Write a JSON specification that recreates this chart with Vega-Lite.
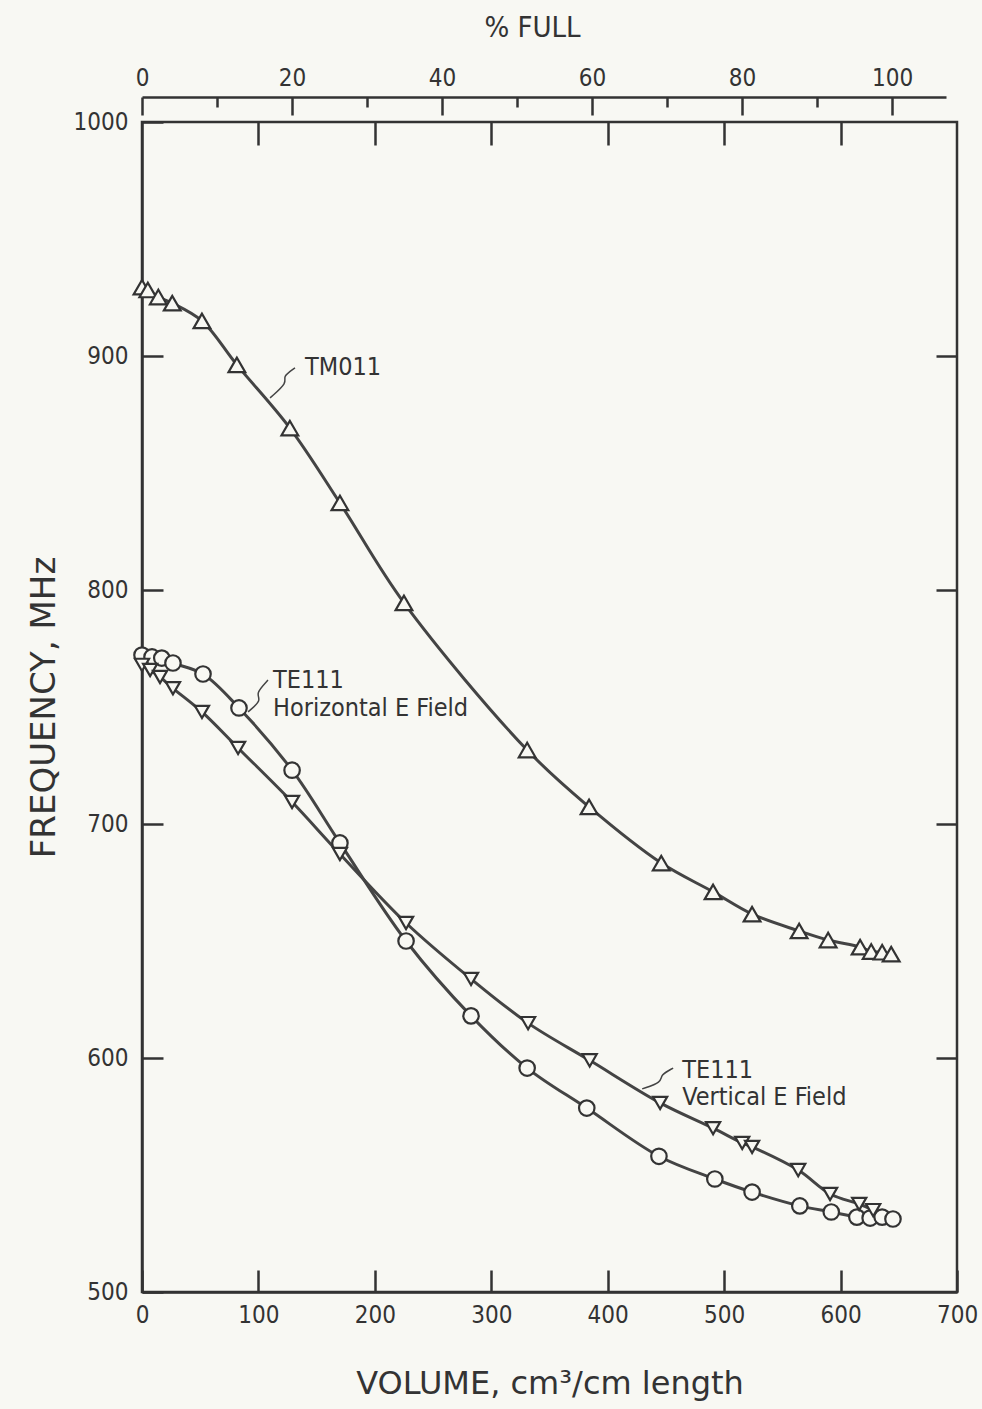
{
  "$schema": "https://vega.github.io/schema/vega-lite/v6.json",
  "width": 815,
  "height": 1170,
  "autosize": "none",
  "padding": {"left": 142, "top": 122, "right": 25, "bottom": 117},
  "background": "#f8f8f3",
  "config": {
    "view": {"stroke": "#333333", "strokeWidth": 2.5},
    "font": "DejaVu Sans Condensed",
    "axis": {
      "labelFont": "DejaVu Sans Condensed",
      "labelFontSize": 24,
      "labelColor": "#333333",
      "tickColor": "#333333",
      "tickWidth": 2.5,
      "domainColor": "#333333",
      "domainWidth": 2.5,
      "grid": false,
      "titleFont": "DejaVu Sans",
      "titleFontSize": 32,
      "titleFontWeight": "normal",
      "titleColor": "#333333"
    }
  },
  "datasets": {
    "curves": [
      {"series": "TM011", "vol": 0, "freq": 929.4},
      {"series": "TM011", "vol": 5, "freq": 928.2},
      {"series": "TM011", "vol": 14, "freq": 925.2},
      {"series": "TM011", "vol": 26, "freq": 922.6},
      {"series": "TM011", "vol": 51.5, "freq": 915.0},
      {"series": "TM011", "vol": 81.5, "freq": 896.2},
      {"series": "TM011", "vol": 127, "freq": 869.2},
      {"series": "TM011", "vol": 170, "freq": 837.2},
      {"series": "TM011", "vol": 225, "freq": 794.5},
      {"series": "TM011", "vol": 330.8, "freq": 731.6},
      {"series": "TM011", "vol": 384, "freq": 707.3},
      {"series": "TM011", "vol": 446, "freq": 683.3},
      {"series": "TM011", "vol": 490.5, "freq": 671.0},
      {"series": "TM011", "vol": 524, "freq": 661.5},
      {"series": "TM011", "vol": 564.4, "freq": 654.3},
      {"series": "TM011", "vol": 589.3, "freq": 650.4},
      {"series": "TM011", "vol": 616.8, "freq": 647.4},
      {"series": "TM011", "vol": 626.3, "freq": 645.5},
      {"series": "TM011", "vol": 635.7, "freq": 645.2},
      {"series": "TM011", "vol": 643.5, "freq": 644.4},
      {"series": "TE111 H", "vol": 0, "freq": 772.2},
      {"series": "TE111 H", "vol": 8.6, "freq": 771.4},
      {"series": "TE111 H", "vol": 17, "freq": 770.9},
      {"series": "TE111 H", "vol": 26.6, "freq": 768.8},
      {"series": "TE111 H", "vol": 52.4, "freq": 764.1},
      {"series": "TE111 H", "vol": 83.3, "freq": 749.6},
      {"series": "TE111 H", "vol": 128.9, "freq": 723.0},
      {"series": "TE111 H", "vol": 170, "freq": 691.9},
      {"series": "TE111 H", "vol": 226.8, "freq": 650.0},
      {"series": "TE111 H", "vol": 282.6, "freq": 618.0},
      {"series": "TE111 H", "vol": 330.8, "freq": 595.7},
      {"series": "TE111 H", "vol": 382, "freq": 578.6},
      {"series": "TE111 H", "vol": 444, "freq": 558.0},
      {"series": "TE111 H", "vol": 492, "freq": 548.3},
      {"series": "TE111 H", "vol": 524, "freq": 542.7},
      {"series": "TE111 H", "vol": 565, "freq": 536.8},
      {"series": "TE111 H", "vol": 592, "freq": 534.2},
      {"series": "TE111 H", "vol": 614, "freq": 532.0},
      {"series": "TE111 H", "vol": 625.4, "freq": 531.6},
      {"series": "TE111 H", "vol": 635.7, "freq": 532.0},
      {"series": "TE111 H", "vol": 645, "freq": 531.2},
      {"series": "TE111 V", "vol": 0, "freq": 768.0},
      {"series": "TE111 V", "vol": 7, "freq": 765.8},
      {"series": "TE111 V", "vol": 15.5, "freq": 762.8},
      {"series": "TE111 V", "vol": 26.6, "freq": 758.0},
      {"series": "TE111 V", "vol": 51.5, "freq": 747.9},
      {"series": "TE111 V", "vol": 82.5, "freq": 732.5},
      {"series": "TE111 V", "vol": 128.9, "freq": 709.4},
      {"series": "TE111 V", "vol": 170, "freq": 687.2},
      {"series": "TE111 V", "vol": 226.8, "freq": 657.7},
      {"series": "TE111 V", "vol": 282.6, "freq": 633.8},
      {"series": "TE111 V", "vol": 331.6, "freq": 614.9},
      {"series": "TE111 V", "vol": 384.5, "freq": 599.0},
      {"series": "TE111 V", "vol": 445, "freq": 580.8},
      {"series": "TE111 V", "vol": 490.5, "freq": 570.0},
      {"series": "TE111 V", "vol": 515.5, "freq": 563.7},
      {"series": "TE111 V", "vol": 524, "freq": 562.0},
      {"series": "TE111 V", "vol": 563.6, "freq": 552.1},
      {"series": "TE111 V", "vol": 591, "freq": 541.9},
      {"series": "TE111 V", "vol": 616, "freq": 537.6},
      {"series": "TE111 V", "vol": 628, "freq": 535.0}
    ],
    "labels": [
      {"text": "TM011", "vol": 140, "freq": 895.3},
      {"text": "TE111", "vol": 112.5, "freq": 761.5},
      {"text": "Horizontal E Field", "vol": 112.5, "freq": 749.6},
      {"text": "TE111", "vol": 464, "freq": 594.9},
      {"text": "Vertical E Field", "vol": 464, "freq": 583.3}
    ],
    "leaders": [
      {"grp": "a", "ord": 1, "vol": 110, "freq": 882.1},
      {"grp": "a", "ord": 2, "vol": 125.4, "freq": 888.9},
      {"grp": "a", "ord": 3, "vol": 120.3, "freq": 891.0},
      {"grp": "a", "ord": 4, "vol": 131.4, "freq": 894.9},
      {"grp": "b", "ord": 1, "vol": 91.1, "freq": 747.9},
      {"grp": "b", "ord": 2, "vol": 103.1, "freq": 753.0},
      {"grp": "b", "ord": 3, "vol": 97.1, "freq": 755.6},
      {"grp": "b", "ord": 4, "vol": 108.2, "freq": 761.5},
      {"grp": "c", "ord": 1, "vol": 429.6, "freq": 586.8},
      {"grp": "c", "ord": 2, "vol": 446.7, "freq": 589.7},
      {"grp": "c", "ord": 3, "vol": 445.0, "freq": 592.7},
      {"grp": "c", "ord": 4, "vol": 456.2, "freq": 595.7}
    ],
    "pct": [{"pct": 0}]
  },
  "resolve": {
    "scale": {"x": "independent"},
    "axis": {"x": "independent", "y": "independent"}
  },
  "layer": [
    {
      "data": {"name": "curves"},
      "mark": {"type": "line", "interpolate": "catmull-rom", "stroke": "#444444", "strokeWidth": 3},
      "encoding": {
        "x": {
          "field": "vol", "type": "quantitative",
          "scale": {"domain": [0, 700], "nice": false, "zero": false},
          "axis": {
            "orient": "bottom",
            "values": [0, 100, 200, 300, 400, 500, 600, 700],
            "format": "d",
            "tickSize": -22,
            "labelPadding": 33,
            "labelFlush": false,
            "labelOverlap": false,
            "title": "VOLUME, cm³/cm length",
            "titlePadding": 41
          }
        },
        "y": {
          "field": "freq", "type": "quantitative",
          "scale": {"domain": [500, 1000], "nice": false, "zero": false},
          "axis": {
            "orient": "left",
            "values": [500, 600, 700, 800, 900, 1000],
            "format": "d",
            "tickSize": -21,
            "labelPadding": 35,
            "labelFlush": false,
            "labelOverlap": false,
            "title": "FREQUENCY, MHz",
            "titleFontSize": 34,
            "titlePadding": 12
          }
        },
        "detail": {"field": "series", "type": "nominal"}
      }
    },
    {
      "data": {"name": "curves"},
      "mark": {"type": "point", "filled": true, "fill": "#f8f8f3", "stroke": "#333333", "strokeWidth": 2.2, "opacity": 1},
      "encoding": {
        "x": {
          "field": "vol", "type": "quantitative",
          "scale": {"domain": [0, 700], "nice": false, "zero": false},
          "axis": {
            "orient": "top",
            "values": [100, 200, 300, 400, 500, 600],
            "tickSize": -23,
            "labels": false,
            "domain": false,
            "title": null
          }
        },
        "y": {
          "field": "freq", "type": "quantitative",
          "scale": {"domain": [500, 1000], "nice": false, "zero": false},
          "axis": {
            "orient": "right",
            "values": [600, 700, 800, 900],
            "tickSize": -21,
            "labels": false,
            "domain": false,
            "title": null
          }
        },
        "shape": {
          "field": "series", "type": "nominal",
          "scale": {"domain": ["TM011", "TE111 H", "TE111 V"], "range": ["triangle-up", "circle", "triangle-down"]},
          "legend": null
        },
        "size": {
          "field": "series", "type": "nominal",
          "scale": {"domain": ["TM011", "TE111 H", "TE111 V"], "range": [280, 200, 280]},
          "legend": null
        }
      }
    },
    {
      "data": {"name": "pct"},
      "mark": {"type": "point", "opacity": 0},
      "encoding": {
        "x": {
          "field": "pct", "type": "quantitative",
          "scale": {"domain": [0, 107.2], "range": [0, 804], "nice": false, "zero": false},
          "axis": {
            "orient": "top",
            "offset": 25,
            "values": [0, 20, 40, 60, 80, 100],
            "format": "d",
            "tickSize": -18,
            "labelPadding": 25,
            "labelFlush": false,
            "labelOverlap": false,
            "title": "% FULL",
            "titleFont": "DejaVu Sans Condensed",
            "titleFontSize": 29,
            "titleX": 390,
            "titlePadding": 24
          }
        }
      }
    },
    {
      "data": {"name": "pct"},
      "mark": {"type": "point", "opacity": 0},
      "encoding": {
        "x": {
          "field": "pct", "type": "quantitative",
          "scale": {"domain": [0, 107.2], "range": [0, 804], "nice": false, "zero": false},
          "axis": {
            "orient": "top",
            "offset": 25,
            "values": [10, 30, 50, 70, 90],
            "tickSize": -10,
            "labels": false,
            "domain": false,
            "title": null
          }
        }
      }
    },
    {
      "data": {"name": "leaders"},
      "mark": {"type": "line", "interpolate": "basis", "stroke": "#444444", "strokeWidth": 1.5},
      "encoding": {
        "x": {"field": "vol", "type": "quantitative", "scale": {"domain": [0, 700], "nice": false, "zero": false}, "axis": null},
        "y": {"field": "freq", "type": "quantitative", "scale": {"domain": [500, 1000], "nice": false, "zero": false}, "axis": null},
        "detail": {"field": "grp", "type": "nominal"},
        "order": {"field": "ord", "type": "quantitative"}
      }
    },
    {
      "data": {"name": "labels"},
      "mark": {"type": "text", "align": "left", "baseline": "middle", "font": "DejaVu Sans Condensed", "fontSize": 25, "fill": "#333333"},
      "encoding": {
        "x": {"field": "vol", "type": "quantitative", "scale": {"domain": [0, 700], "nice": false, "zero": false}, "axis": null},
        "y": {"field": "freq", "type": "quantitative", "scale": {"domain": [500, 1000], "nice": false, "zero": false}, "axis": null},
        "text": {"field": "text", "type": "nominal"}
      }
    }
  ]
}
